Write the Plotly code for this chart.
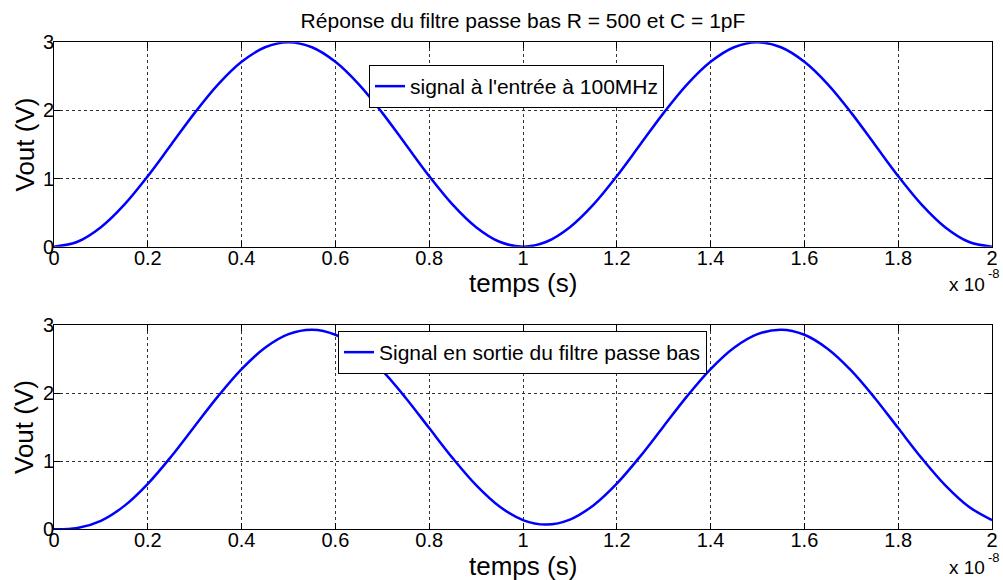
import plotly.graph_objects as go
from plotly.subplots import make_subplots

# time axis, in units of 1e-8 s
temps = [0.00, 0.05, 0.10, 0.15, 0.20, 0.25, 0.30, 0.35, 0.40, 0.45,
         0.50, 0.55, 0.60, 0.65, 0.70, 0.75, 0.80, 0.85, 0.90, 0.95,
         1.00, 1.05, 1.10, 1.15, 1.20, 1.25, 1.30, 1.35, 1.40, 1.45,
         1.50, 1.55, 1.60, 1.65, 1.70, 1.75, 1.80, 1.85, 1.90, 1.95, 2.00]

# input signal (V)
v_entree = [0.000, 0.073, 0.287, 0.618, 1.036, 1.500, 1.964, 2.382, 2.713, 2.927,
            3.000, 2.927, 2.713, 2.382, 1.964, 1.500, 1.036, 0.618, 0.287, 0.073,
            0.000, 0.073, 0.287, 0.618, 1.036, 1.500, 1.964, 2.382, 2.713, 2.927,
            3.000, 2.927, 2.713, 2.382, 1.964, 1.500, 1.036, 0.618, 0.287, 0.073, 0.000]

# low-pass filter output (V)
v_sortie = [0.000, 0.019, 0.125, 0.344, 0.668, 1.070, 1.514, 1.955, 2.352, 2.666,
            2.865, 2.931, 2.857, 2.649, 2.330, 1.929, 1.486, 1.045, 0.648, 0.334,
            0.135, 0.069, 0.143, 0.351, 0.670, 1.071, 1.514, 1.955, 2.352, 2.666,
            2.865, 2.931, 2.857, 2.649, 2.330, 1.929, 1.486, 1.045, 0.648, 0.334, 0.135]

x_ticks = [0, 0.2, 0.4, 0.6, 0.8, 1.0, 1.2, 1.4, 1.6, 1.8, 2.0]
x_tick_text = ["0", "0.2", "0.4", "0.6", "0.8", "1", "1.2", "1.4", "1.6", "1.8", "2"]
y_ticks = [0, 1, 2, 3]
y_tick_text = ["0", "1", "2", "3"]

title_text = "Réponse du filtre passe bas R = 500 et C = 1pF"
x_title = "temps (s)"
y_title = "Vout (V)"
legend_haut = "signal à l'entrée à 100MHz"
legend_bas = "Signal en sortie du filtre passe bas"

FONT = "Liberation Sans, Arial, Helvetica, sans-serif"
W, H = 1003, 580

fig = make_subplots(rows=2, cols=1)

fig.add_trace(go.Scatter(x=temps, y=v_entree, mode="lines", name=legend_haut,
                         line=dict(color="#0000FF", width=2.5, shape="spline"),
                         legend="legend"), row=1, col=1)
fig.add_trace(go.Scatter(x=temps, y=v_sortie, mode="lines", name=legend_bas,
                         line=dict(color="#0000FF", width=2.5, shape="spline"),
                         legend="legend2"), row=2, col=1)

x0, x1 = 54 / W, 992 / W
dom_top = [(H - 246.7) / H, (H - 42.3) / H]
dom_bot = [(H - 529.3) / H, (H - 325) / H]

axis_common = dict(
    automargin=False,
    showline=True, linecolor="black", linewidth=1, mirror="ticks",
    ticks="inside", ticklen=6, tickcolor="black", tickwidth=1,
    showgrid=True, gridcolor="#333333", griddash="dot", gridwidth=1,
    zeroline=False, tickfont=dict(family=FONT, size=20, color="black"),
)

for i, dom in ((1, dom_top), (2, dom_bot)):
    fig.update_xaxes(row=i, col=1, domain=[x0, x1], range=[0, 2],
                     tickvals=x_ticks, ticktext=x_tick_text, ticklabelstandoff=-7,
                     **axis_common)
    fig.update_yaxes(row=i, col=1, domain=dom, range=[0, 3],
                     tickvals=y_ticks, ticktext=y_tick_text,
                     ticklabelstandoff=-5,
                     **axis_common)

# axis titles and exponent labels
for xaxis_center_y, yaxis_center_y, exp_y in ((283, 144.5, 284), (566, 427, 567)):
    fig.add_annotation(xref="paper", yref="paper", x=523 / W, y=(H - xaxis_center_y) / H,
                       xanchor="center", yanchor="middle", showarrow=False,
                       text=x_title, font=dict(family=FONT, size=26, color="black"))
    fig.add_annotation(xref="paper", yref="paper", x=24 / W, y=(H - yaxis_center_y) / H,
                       xanchor="center", yanchor="middle", showarrow=False, textangle=-90,
                       text=y_title, font=dict(family=FONT, size=26, color="black"))
    fig.add_annotation(xref="paper", yref="paper", x=987 / W, y=(H - exp_y) / H,
                       xanchor="right", yanchor="middle", showarrow=False,
                       text="x 10", font=dict(family=FONT, size=19, color="black"))
    fig.add_annotation(xref="paper", yref="paper", x=986 / W, y=(H - exp_y + 10) / H,
                       xanchor="left", yanchor="middle", showarrow=False,
                       text="-8", font=dict(family=FONT, size=13, color="black"))

fig.update_layout(
    width=W, height=H,
    margin=dict(l=0, r=0, t=0, b=0),
    paper_bgcolor="white", plot_bgcolor="white",
    font=dict(family=FONT, color="black"),
    title=dict(text=title_text, x=523 / W, xanchor="center", y=(H - 20.5) / H, yanchor="middle",
               font=dict(family=FONT, size=21, color="black")),
    legend=dict(x=369 / W, y=(H - 65) / H, xanchor="left", yanchor="top",
                bgcolor="white", bordercolor="black", borderwidth=1,
                font=dict(family=FONT, size=21, color="black")),
    legend2=dict(x=338 / W, y=(H - 331) / H, xanchor="left", yanchor="top",
                 bgcolor="white", bordercolor="black", borderwidth=1,
                 font=dict(family=FONT, size=21, color="black")),
    showlegend=True,
)

fig.write_html("out.html", config={"displayModeBar": False},
               post_script="document.body.style.margin='0';document.body.style.overflow='hidden';")
